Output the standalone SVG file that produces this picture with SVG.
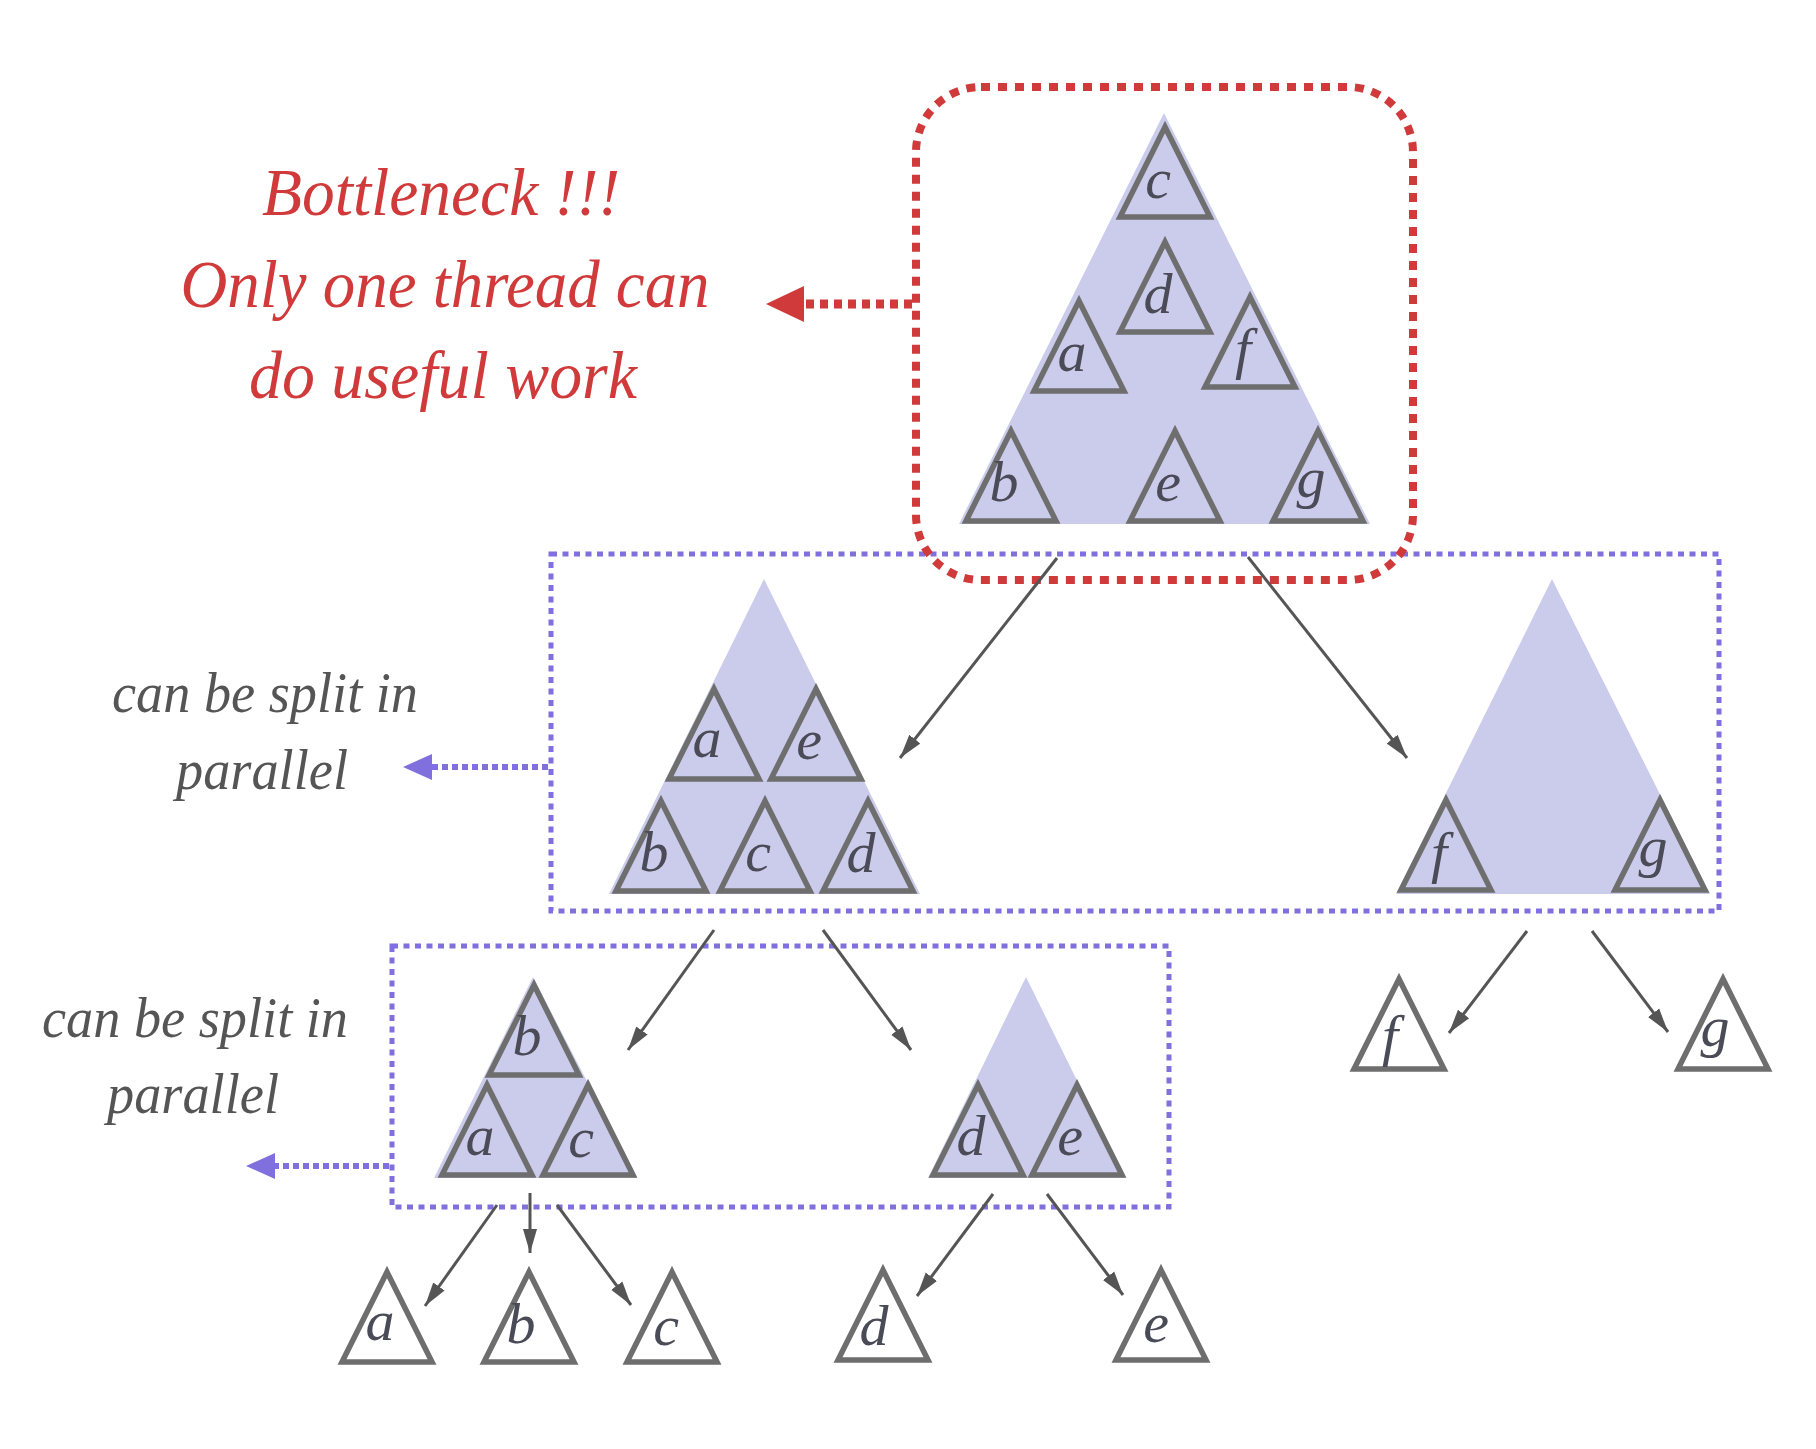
<svg xmlns="http://www.w3.org/2000/svg" xmlns:xlink="http://www.w3.org/1999/xlink" width="1816" height="1449" viewBox="0 0 1816 1449">
<style>
.lav{fill:#cbcbeb}
.tri{fill:#cbcbeb;stroke:#6e6e6e;stroke-width:5.5;stroke-linejoin:miter}
.w{fill:#ffffff}
.lbl{font-family:"Liberation Serif",serif;font-style:italic;font-size:58px;fill:#4b4b58;text-anchor:middle}
.red{font-family:"Liberation Serif",serif;font-style:italic;font-size:68px;fill:#d03a3a;text-anchor:middle}
.gray{font-family:"Liberation Serif",serif;font-style:italic;font-size:56px;fill:#555555}
.bbox{fill:none;stroke:#7f70de;stroke-width:5;stroke-dasharray:6 5.5}
.rbox{fill:none;stroke:#d03a3a;stroke-width:8;stroke-dasharray:9 8}
.arr{stroke:#555555;stroke-width:3;fill:none;marker-end:url(#ah)}
</style>
<defs>
<polygon id="st" points="0,-90 -45,0 45,0"/>
<marker id="ah" markerUnits="userSpaceOnUse" markerWidth="26" markerHeight="16" refX="24" refY="8" orient="auto">
<path d="M0,1 L24,8 L0,15 z" fill="#555555"/>
</marker>
</defs>
<rect width="1816" height="1449" fill="#ffffff"/>

<g id="groups">
<rect id="split-box-1" class="bbox" x="551" y="554" width="1168" height="357"/>
<rect id="split-box-2" class="bbox" x="392" y="946" width="777" height="261"/>
</g>

<g id="root-tree">
<polygon class="lav" points="1164,113 959,524 1370,524"/>
<g id="root-c"><use href="#st" class="tri" transform="translate(1165,217)"/><text class="lbl" x="1158" y="198">c</text></g>
<g id="root-d"><use href="#st" class="tri" transform="translate(1165,332)"/><text class="lbl" x="1158" y="313">d</text></g>
<g id="root-a"><use href="#st" class="tri" transform="translate(1079,391)"/><text class="lbl" x="1072" y="371">a</text></g>
<g id="root-f"><use href="#st" class="tri" transform="translate(1250,387)"/><text class="lbl" x="1243" y="368">f</text></g>
<g id="root-b"><use href="#st" class="tri" transform="translate(1011,521)"/><text class="lbl" x="1004" y="501">b</text></g>
<g id="root-e"><use href="#st" class="tri" transform="translate(1175,521)"/><text class="lbl" x="1168" y="501">e</text></g>
<g id="root-g"><use href="#st" class="tri" transform="translate(1318,521)"/><text class="lbl" x="1311" y="497">g</text></g>
</g>

<g id="mid-left-tree">
<polygon class="lav" points="764,579 609,894 920,894"/>
<g id="ml-a"><use href="#st" class="tri" transform="translate(714,779)"/><text class="lbl" x="707" y="757">a</text></g>
<g id="ml-e"><use href="#st" class="tri" transform="translate(816,779)"/><text class="lbl" x="809" y="759">e</text></g>
<g id="ml-b"><use href="#st" class="tri" transform="translate(661,891)"/><text class="lbl" x="654" y="871">b</text></g>
<g id="ml-c"><use href="#st" class="tri" transform="translate(765,891)"/><text class="lbl" x="758" y="871">c</text></g>
<g id="ml-d"><use href="#st" class="tri" transform="translate(868,891)"/><text class="lbl" x="861" y="872">d</text></g>
</g>

<g id="mid-right-tree">
<polygon class="lav" points="1552,579 1396,894 1710,894"/>
<g id="mr-f"><use href="#st" class="tri" transform="translate(1446,890)"/><text class="lbl" x="1439" y="872">f</text></g>
<g id="mr-g"><use href="#st" class="tri" transform="translate(1660,890)"/><text class="lbl" x="1653" y="866">g</text></g>
</g>

<g id="low-left-tree">
<polygon class="lav" points="533,977 434,1178 637,1178"/>
<g id="ll-b"><use href="#st" class="tri" transform="translate(534,1075)"/><text class="lbl" x="527" y="1055">b</text></g>
<g id="ll-a"><use href="#st" class="tri" transform="translate(487,1175)"/><text class="lbl" x="480" y="1155">a</text></g>
<g id="ll-c"><use href="#st" class="tri" transform="translate(588,1175)"/><text class="lbl" x="581" y="1157">c</text></g>
</g>

<g id="low-right-tree">
<polygon class="lav" points="1026,977 928,1178 1125,1178"/>
<g id="lr-d"><use href="#st" class="tri" transform="translate(978,1175)"/><text class="lbl" x="971" y="1155">d</text></g>
<g id="lr-e"><use href="#st" class="tri" transform="translate(1077,1175)"/><text class="lbl" x="1070" y="1155">e</text></g>
</g>

<g id="leaf-a"><use href="#st" class="tri w" transform="translate(387,1362)"/><text class="lbl" x="380" y="1340">a</text></g>
<g id="leaf-b"><use href="#st" class="tri w" transform="translate(529,1362)"/><text class="lbl" x="521" y="1343">b</text></g>
<g id="leaf-c"><use href="#st" class="tri w" transform="translate(672,1362)"/><text class="lbl" x="666" y="1345">c</text></g>
<g id="leaf-d"><use href="#st" class="tri w" transform="translate(883,1360)"/><text class="lbl" x="874" y="1345">d</text></g>
<g id="leaf-e"><use href="#st" class="tri w" transform="translate(1161,1360)"/><text class="lbl" x="1156" y="1342">e</text></g>
<g id="leaf-f"><use href="#st" class="tri w" transform="translate(1399,1069)"/><text class="lbl" x="1390" y="1055">f</text></g>
<g id="leaf-g"><use href="#st" class="tri w" transform="translate(1723,1069)"/><text class="lbl" x="1715" y="1046">g</text></g>

<g id="bottleneck-box">
<rect class="rbox" x="916" y="87" width="497" height="493" rx="65" ry="65"/>
</g>

<g id="bottleneck-label">
<text class="red" x="441" y="215" textLength="358" lengthAdjust="spacingAndGlyphs">Bottleneck !!!</text>
<text class="red" x="445" y="307" textLength="529" lengthAdjust="spacingAndGlyphs">Only one thread can</text>
<text class="red" x="443" y="398" textLength="388" lengthAdjust="spacingAndGlyphs">do useful work</text>
</g>

<g id="split-label-1">
<text class="gray" x="112" y="712" textLength="306" lengthAdjust="spacingAndGlyphs">can be split in</text>
<text class="gray" x="176" y="789" textLength="172" lengthAdjust="spacingAndGlyphs">parallel</text>
</g>
<g id="split-label-2">
<text class="gray" x="42" y="1037" textLength="306" lengthAdjust="spacingAndGlyphs">can be split in</text>
<text class="gray" x="107" y="1113" textLength="172" lengthAdjust="spacingAndGlyphs">parallel</text>
</g>

<g id="connectors">
<line x1="912" y1="304" x2="804" y2="304" stroke="#d03a3a" stroke-width="9" stroke-dasharray="8 6"/>
<polygon points="766,304 804,286 804,322" fill="#d03a3a"/>
<line x1="548" y1="767" x2="432" y2="767" stroke="#7f70de" stroke-width="6" stroke-dasharray="6 4"/>
<polygon points="403,767 432,754 432,780" fill="#7f70de"/>
<line x1="389" y1="1166" x2="275" y2="1166" stroke="#7f70de" stroke-width="6" stroke-dasharray="6 4"/>
<polygon points="246,1166 275,1153 275,1179" fill="#7f70de"/>

<line class="arr" x1="1057" y1="558" x2="900" y2="758"/>
<line class="arr" x1="1248" y1="557" x2="1407" y2="758"/>
<line class="arr" x1="714" y1="930" x2="628" y2="1050"/>
<line class="arr" x1="823" y1="930" x2="911" y2="1050"/>
<line class="arr" x1="1527" y1="931" x2="1449" y2="1033"/>
<line class="arr" x1="1592" y1="931" x2="1668" y2="1032"/>
<line class="arr" x1="497" y1="1205" x2="425" y2="1306"/>
<line class="arr" x1="530" y1="1193" x2="530" y2="1253"/>
<line class="arr" x1="557" y1="1205" x2="631" y2="1305"/>
<line class="arr" x1="993" y1="1194" x2="917" y2="1296"/>
<line class="arr" x1="1047" y1="1194" x2="1123" y2="1295"/>
</g>
</svg>
